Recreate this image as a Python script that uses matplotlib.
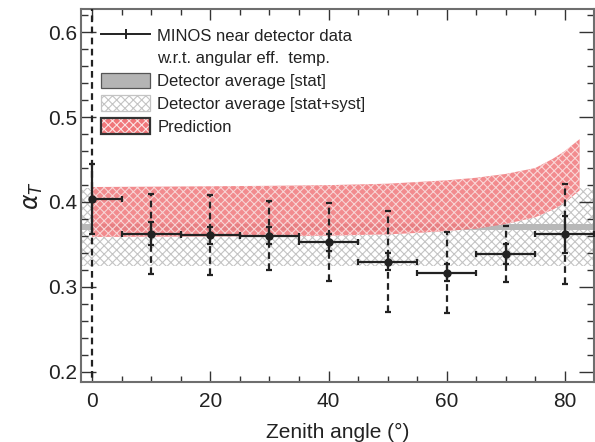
import numpy as np
import matplotlib
matplotlib.use('Agg')
import matplotlib.pyplot as plt
from matplotlib.patches import Patch
from matplotlib.lines import Line2D
from matplotlib.ticker import MultipleLocator

plt.rcParams['font.family'] = ['Liberation Sans', 'DejaVu Sans']
plt.rcParams['hatch.linewidth'] = 0.8

# data points (zenith angle bins)
zenith = [0, 10, 20, 30, 40, 50, 60, 70, 80]
alpha_t = [0.4035, 0.3627, 0.361, 0.3604, 0.3525, 0.3298, 0.3168, 0.3388, 0.3619]
err_stat = [0.041, 0.014, 0.010, 0.010, 0.010, 0.010, 0.010, 0.012, 0.022]
err_tot = [0.25, 0.047, 0.047, 0.041, 0.046, 0.060, 0.048, 0.033, 0.059]
xerr_lo = [0, 5, 5, 5, 5, 5, 5, 5, 5]
xerr_hi = [5, 5, 5, 5, 5, 5, 5, 5, 5]

# detector averages
avg_stat = (0.3665, 0.374)
avg_syst = (0.324, 0.416)

# prediction band
pred_x = [0, 10, 20, 30, 40, 50, 55, 60, 65, 70, 75, 78, 80, 82.5]
pred_hi = [0.4176, 0.418, 0.4185, 0.419, 0.4198, 0.4215, 0.4235, 0.4255, 0.4285, 0.433, 0.440, 0.451, 0.460, 0.474]
pred_lo = [0.3588, 0.359, 0.3593, 0.3597, 0.3603, 0.3618, 0.3635, 0.3658, 0.3685, 0.374, 0.382, 0.391, 0.399, 0.4136]

hatch = 'xxxx'
gray_hatch = '#c4c4c4'
red_face = '#f0777a'
red_hatch = '#fbe4e4'

fig = plt.figure(figsize=(5.95, 4.42), dpi=100)
ax = fig.add_axes([0.136, 0.136, 0.862, 0.843])
xlim = (-1.9, 84.9)
ax.set_xlim(*xlim)
ax.set_ylim(0.188, 0.627)

# stat+syst band (hatched gray)
ax.fill_between(xlim, avg_syst[0], avg_syst[1], facecolor='white',
                edgecolor=gray_hatch, hatch=hatch, linewidth=0, zorder=1)
# stat band (solid gray)
ax.fill_between(xlim, avg_stat[0], avg_stat[1], facecolor='#b8b8b8',
                linewidth=0, zorder=2)
# prediction
ax.fill_between(pred_x, pred_lo, pred_hi, facecolor=red_face,
                edgecolor=red_hatch, hatch=hatch, linewidth=0,
                alpha=0.85, zorder=3)

# total errors (dashed)
eb = ax.errorbar(zenith, alpha_t, yerr=err_tot, fmt='none', ecolor='#222222',
                 elinewidth=1.6, capsize=2.5, capthick=1.6, zorder=4)
for lc in eb[2]:
    lc.set_linestyle((0, (3, 2)))
# stat errors + bin widths (solid)
ax.errorbar(zenith, alpha_t, yerr=err_stat, xerr=[xerr_lo, xerr_hi],
            fmt='o', color='#222222', ms=5, elinewidth=1.6, capsize=2,
            capthick=1.6, zorder=5)

ax.xaxis.set_major_locator(MultipleLocator(20))
ax.xaxis.set_minor_locator(MultipleLocator(5))
ax.yaxis.set_major_locator(MultipleLocator(0.1))
ax.yaxis.set_minor_locator(MultipleLocator(0.02))
ax.yaxis.set_major_formatter(plt.FormatStrFormatter('%.1f'))
ax.tick_params(which='both', direction='in', top=True, right=True,
               color='#333333', width=1.0, labelsize=15, labelcolor='#222222')
ax.tick_params(axis='x', which='major', length=8, pad=7)
ax.tick_params(axis='x', which='minor', length=4.5)
ax.tick_params(axis='y', which='major', length=10.5, pad=3)
ax.tick_params(axis='y', which='minor', length=5)
for sp in ax.spines.values():
    sp.set_color('#6e6e6e')
    sp.set_linewidth(1.5)

ax.set_xlabel('Zenith angle (°)', fontsize=15, color='#222222', labelpad=9)
ax.set_ylabel(r'$\alpha_T$', fontsize=17, color='#222222', labelpad=2)

# legend
h_data = Line2D([], [], color='#222222', marker='|', ms=7, mew=1.4, lw=1.4)
h_blank = Line2D([], [], alpha=0)
h_stat = Patch(facecolor='#b4b4b4', edgecolor='#555555', linewidth=0.9)
h_syst = Patch(facecolor='white', edgecolor=gray_hatch, hatch=hatch, linewidth=0.9)
h_pred = Patch(facecolor=red_face, edgecolor=red_hatch, hatch=hatch, linewidth=0)
labels = ['MINOS near detector data', 'w.r.t. angular eff.  temp.',
          'Detector average [stat]', 'Detector average [stat+syst]', 'Prediction']
leg = ax.legend([h_data, h_blank, h_stat, h_syst, h_pred], labels,
                loc='upper left', bbox_to_anchor=(0.027, 0.970), frameon=False,
                fontsize=12, handlelength=2.9, handleheight=1.05,
                handletextpad=0.45, labelspacing=0.38, borderaxespad=0)
for t in leg.get_texts():
    t.set_color('#222222')
leg_patches = leg.get_patches()

# dark outline on the prediction key
fig.canvas.draw()
bb = leg_patches[-1].get_window_extent()
fig.patches.append(plt.Rectangle((bb.x0, bb.y0), bb.width, bb.height,
                                 transform=None, fill=False,
                                 edgecolor='#333333', linewidth=1.6, zorder=10))

fig.savefig('out.png', dpi=100)
